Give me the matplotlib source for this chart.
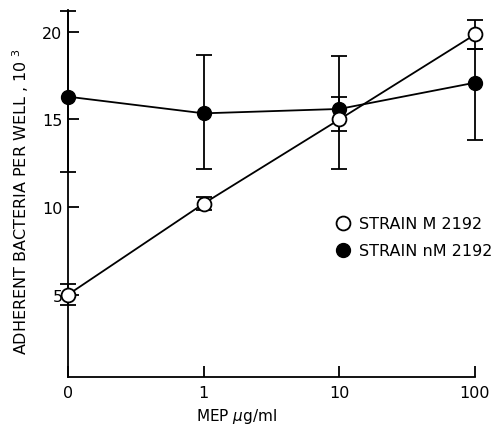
import numpy as np
import matplotlib.pyplot as plt
from matplotlib.lines import Line2D

plt.rcParams['font.family'] = ['DejaVu Sans']

# データ
doses = ['0', '1', '10', '100']
x_pos = [0, 1, 2, 3]

strain_m = [5.0, 10.2, 15.0, 19.85]
strain_m_err_lo = [0.57, 0.35, 0.65, 0.85]
strain_m_err_hi = [0.6, 0.35, 1.3, 0.8]

strain_nm = [16.3, 15.35, 15.6, 17.1]
strain_nm_err_lo = [4.3, 3.2, 3.4, 3.25]
strain_nm_err_hi = [4.9, 3.35, 3.0, 1.95]

yticks = [5, 10, 15, 20]

fig = plt.figure(figsize=(4.99, 4.27), dpi=100)
ax = fig.add_axes([0.1363, 0.1148, 0.8156, 0.8595])

# nM 2192（黒丸）
ax.errorbar(x_pos, strain_nm, yerr=[strain_nm_err_lo, strain_nm_err_hi],
            fmt='-o', color='black', mfc='black', mec='black', ms=10,
            lw=1.3, elinewidth=1.3, capsize=6, capthick=1.3, zorder=3,
            clip_on=False)

# M 2192（白丸）
ax.errorbar(x_pos, strain_m, yerr=[strain_m_err_lo, strain_m_err_hi],
            fmt='-o', color='black', mfc='white', mec='black', ms=10,
            mew=1.3, lw=1.3, elinewidth=1.3, capsize=6, capthick=1.3,
            zorder=4, clip_on=False)

ax.set_xlim(0, 3.0)
ax.set_ylim(0.3, 21.25)

ax.spines['top'].set_visible(False)
ax.spines['right'].set_visible(False)
ax.spines['left'].set_linewidth(1.3)
ax.spines['bottom'].set_linewidth(1.3)

ax.set_xticks(x_pos)
ax.set_xticklabels(doses)
ax.set_yticks(yticks)
ax.tick_params(axis='both', direction='in', length=8, width=1.3,
               labelsize=11.5, pad=6)
ax.tick_params(axis='y', pad=4)

ax.set_ylabel('ADHERENT BACTERIA PER WELL , 10 $^{3}$', fontsize=11.5)
ax.yaxis.set_label_coords(-0.09, 0.48)
ax.set_xlabel(r'MEP $\mu$g/ml', fontsize=11)
ax.xaxis.set_label_coords(0.415, -0.078)

handles = [
    Line2D([], [], ls='none', marker='o', ms=10, mfc='white', mec='black', mew=1.3),
    Line2D([], [], ls='none', marker='o', ms=10, mfc='black', mec='black'),
]
ax.legend(handles, ['STRAIN M 2192', 'STRAIN nM 2192'], loc='upper left',
          bbox_to_anchor=(0.64, 0.455), frameon=False, fontsize=11.5,
          handletextpad=0.5, labelspacing=0.75, handlelength=1.0,
          borderaxespad=0)

fig.savefig('out.png', dpi=100)
